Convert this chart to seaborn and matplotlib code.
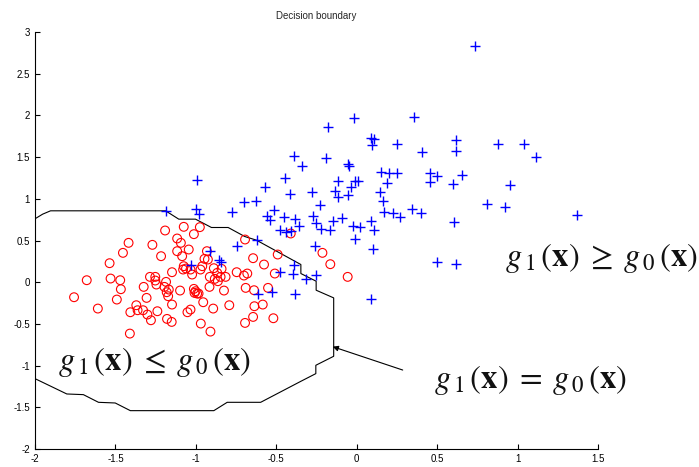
import matplotlib
matplotlib.use("Agg")
import matplotlib.pyplot as plt
import seaborn as sns
import pandas as pd

# Class 0 samples (red circles)
class0_x = [-1.757, -1.678, -1.609, -1.536, -1.530, -1.470, -1.466, -1.491, -1.453, -1.418,
            -1.407, -1.410, -1.370, -1.362, -1.328, -1.324, -1.306, -1.301, -1.285, -1.279,
            -1.270, -1.252, -1.252, -1.245, -1.239, -1.216, -1.191, -1.185, -1.195, -1.181,
            -1.172, -1.168, -1.179, -1.150, -1.148, -1.148, -1.116, -1.116, -1.093, -1.085,
            -1.098, -1.079, -1.075, -1.075, -1.061, -1.044, -1.052, -1.033, -1.033, -1.023,
            -1.012, -1.012, -1.008, -1.002, -0.992, -0.983, -0.975, -0.971, -0.969, -0.960,
            -0.954, -0.946, -0.931, -0.925, -0.915, -0.909, -0.892, -0.913, -0.888, -0.882,
            -0.867, -0.863, -0.846, -0.840, -0.825, -0.815, -0.792, -0.746, -0.701, -0.680,
            -0.694, -0.690, -0.694, -0.644, -0.638, -0.636, -0.644, -0.576, -0.584, -0.551,
            -0.518, -0.509, -0.491, -0.410, -0.213, -0.164, -0.056]
class0_y = [-0.180, 0.024, -0.316, 0.228, 0.044, 0.024, -0.084, -0.208, 0.352, 0.472,
            -0.360, -0.616, -0.276, -0.336, -0.336, -0.056, -0.188, -0.388, 0.064, -0.456,
            0.448, 0.064, 0.020, -0.028, -0.348, 0.312, 0.620, 0.004, -0.056, -0.120,
            -0.168, -0.088, -0.440, -0.476, -0.268, 0.120, 0.524, 0.372, 0.472, 0.312,
            -0.100, 0.152, 0.192, 0.664, 0.164, 0.392, -0.360, -0.328, 0.152, 0.092,
            0.576, -0.080, -0.128, -0.108, -0.136, -0.136, 0.660, 0.152, -0.496, 0.192,
            -0.240, 0.280, 0.372, 0.272, -0.056, -0.592, -0.316, 0.064, 0.168, 0.040,
            0.112, 0.012, 0.064, 0.160, -0.100, 0.064, -0.276, 0.120, 0.080, 0.104,
            0.512, -0.068, -0.488, 0.288, -0.096, -0.288, -0.416, 0.212, -0.268, -0.068,
            -0.432, 0.104, 0.332, 0.584, 0.352, 0.216, 0.064]

# Class 1 samples (blue crosses)
class1_x = [-1.188, -0.990, -1.000, -0.981, -0.772, -0.700, -0.625, -0.567, -0.516, -0.557,
            -0.541, -0.478, -0.451, -0.447, -0.412, -0.387, -0.340, -0.381, -0.360, -0.441,
            -0.410, -0.275, -0.271, -0.251, -0.230, -0.224, -0.178, -0.193, -0.168, -0.147,
            -0.137, -0.116, -0.116, -0.091, -0.054, -0.054, -0.048, -0.033, -0.017, -0.012,
            -0.023, 0.008, 0.733, 0.356, 0.091, 0.108, 0.097, 0.253, 0.406, 0.617,
            0.617, 0.876, 1.039, 1.112, 0.151, 0.201, 0.253, 0.190, 0.145, 0.164,
            0.170, 0.226, 0.267, 0.344, 0.400, 0.455, 0.497, 0.455, 0.598, 0.654,
            0.950, 0.809, 0.923, 1.369, 0.604, 0.089, 0.019, 0.108, -0.012, 0.101,
            0.497, 0.619, 0.091, -0.913, -1.029, -0.857, -0.842, -0.746, -0.617, -0.613,
            -0.524, -0.476, -0.395, -0.389, -0.384, -0.260, -0.254, -0.316]
class1_y = [0.856, 1.224, 0.876, 0.816, 0.840, 0.956, 0.972, 1.136, 0.860, 0.788,
            0.740, 0.628, 0.784, 1.248, 1.056, 1.512, 1.388, 0.760, 0.668, 0.600,
            0.612, 1.080, 0.788, 0.708, 0.928, 0.636, 1.856, 1.492, 0.620, 0.728,
            1.088, 1.208, 1.020, 0.768, 1.420, 1.048, 1.388, 1.136, 1.968, 1.208,
            0.668, 1.216, 2.828, 1.980, 1.728, 1.716, 1.640, 1.652, 1.560, 1.708,
            1.576, 1.652, 1.660, 1.500, 1.324, 1.308, 1.308, 1.192, 1.076, 0.976,
            0.840, 0.824, 0.784, 0.876, 0.824, 1.304, 1.276, 1.204, 1.176, 1.280,
            1.160, 0.936, 0.904, 0.808, 0.716, 0.736, 0.656, 0.620, 0.520, 0.400,
            0.248, 0.220, -0.204, 0.372, 0.208, 0.272, 0.240, 0.432, 0.512, -0.136,
            -0.116, 0.120, 0.104, 0.212, -0.136, 0.432, 0.092, 0.040]

# Contour where g1(x) = g0(x)
boundary_x = [-2.000, -1.952, -1.903, -1.188, -1.106, -1.002, -0.903, -0.799, -0.696, -0.623,
              -0.347, -0.347, -0.252, -0.252, -0.143, -0.143, -0.254, -0.254, -0.347, -0.597,
              -0.805, -0.888, -1.407, -1.501, -1.605, -1.699, -1.802, -2.000]
boundary_y = [0.760, 0.816, 0.856, 0.856, 0.756, 0.756, 0.656, 0.656, 0.548, 0.504,
              0.212, 0.104, 0.012, -0.096, -0.188, -0.888, -0.996, -1.096, -1.188, -1.440,
              -1.440, -1.540, -1.540, -1.448, -1.440, -1.348, -1.340, -1.156]

x_ticks = [-2, -1.5, -1, -0.5, 0, 0.5, 1, 1.5]
y_ticks = [-2, -1.5, -1, -0.5, 0, 0.5, 1, 1.5, 2, 2.5, 3]

sns.set_style("ticks")
plt.rcParams["font.family"] = ["Liberation Sans", "DejaVu Sans"]
plt.rcParams["mathtext.fontset"] = "stix"
plt.rcParams["xtick.direction"] = "in"
plt.rcParams["ytick.direction"] = "in"

fig = plt.figure(figsize=(6.99, 4.67), dpi=100)
ax = fig.add_axes([0.050, 0.0385, 0.8055, 0.893])

df0 = pd.DataFrame({"x": class0_x, "y": class0_y})
df1 = pd.DataFrame({"x": class1_x, "y": class1_y})
bd = pd.DataFrame({"x": boundary_x, "y": boundary_y})

sns.lineplot(data=bd, x="x", y="y", sort=False, estimator=None, color="black",
             linewidth=0.8, ax=ax)
sns.scatterplot(data=df0, x="x", y="y", marker="o", s=40, facecolors="none",
                edgecolors="red", linewidths=0.8, ax=ax, zorder=3)
sns.scatterplot(data=df1, x="x", y="y", marker="+", s=60, color="blue",
                linewidths=1.0, ax=ax, zorder=3)

ax.set_xlim(-2, 1.5)
ax.set_ylim(-2, 3)
ax.set_xticks(x_ticks)
ax.set_yticks(y_ticks)
ax.set_xticklabels([f"{t:g}" for t in x_ticks])
ax.set_yticklabels([f"{t:g}" for t in y_ticks])
ax.tick_params(labelsize=7, length=3.5, width=0.8, colors="black")
ax.set_xlabel("")
ax.set_ylabel("")
sns.despine(ax=ax)
for s in ("left", "bottom"):
    ax.spines[s].set_linewidth(0.8)
    ax.spines[s].set_color("black")

ax.set_title("Decision boundary", fontsize=7, pad=9)

eq_kw = dict(fontsize=23.5, va="center", ha="left", color="#111111", clip_on=False)
ax.text(0.925, 0.29,
        r"$g_{\,1}\,(\mathbf{x})\;\geq\;g_{\,0}\,(\mathbf{x})$", **eq_kw)
ax.text(0.478, -1.173,
        r"$g_{\,1}\,(\mathbf{x})\;=\;g_{\,0}\,(\mathbf{x})$", **eq_kw)
ax.text(-1.857, -0.957,
        r"$g_{\,1}\,(\mathbf{x})\;\leq\;g_{\,0}\,(\mathbf{x})$", **eq_kw)

ax.annotate("", xy=(-0.149, -0.773), xytext=(0.286, -1.053),
            arrowprops=dict(arrowstyle="-|>", color="black", lw=0.8,
                            mutation_scale=8, shrinkA=0, shrinkB=0))

fig.savefig("out.png", dpi=100)
